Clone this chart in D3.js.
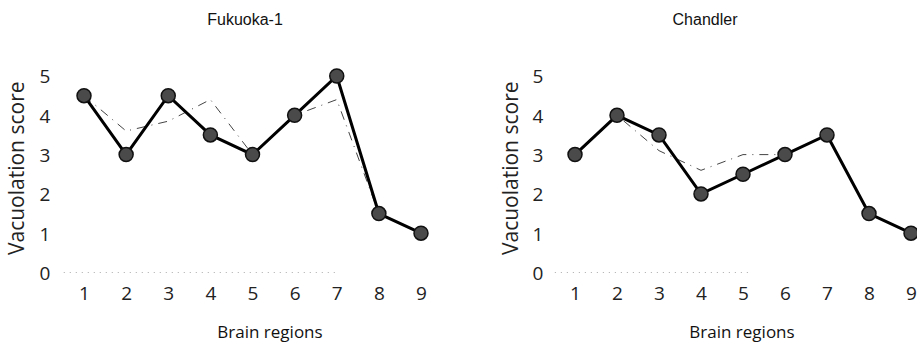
<!DOCTYPE html>
<html>
<head>
<meta charset="utf-8">
<script src="https://cdn.jsdelivr.net/npm/d3@7"></script>
<style>
  body { margin: 0; background: #fff; }
  svg { display: block; }
  .tick text { font-family: 'Open Sans', sans-serif; font-weight: 400; font-size: 19px; fill: #222; }
  .ytitle { font-family: 'Open Sans', sans-serif; font-weight: 400; font-size: 21px; fill: #222; }
  .xtitle { font-family: 'Open Sans', sans-serif; font-weight: 400; font-size: 17px; fill: #111; }
  .ptitle { font-family: 'Liberation Sans', Arial, sans-serif; font-size: 16px; fill: #111; }
</style>
</head>
<body>
<div id="chart"></div>
<script>
// data
const regions = [1, 2, 3, 4, 5, 6, 7, 8, 9]
const yTicks = [0, 1, 2, 3, 4, 5]
const panelNames = ['Fukuoka-1', 'Chandler']
const fukuokaScore = [4.5, 3, 4.5, 3.5, 3, 4, 5, 1.5, 1]
const fukuokaDashed = [4.5, 3.6, 3.85, 4.4, 3, 4, 4.4, 1.5, 1]
const chandlerScore = [3, 4, 3.5, 2, 2.5, 3, 3.5, 1.5, 1]
const chandlerDashed = [3, 4, 3.1, 2.6, 3, 3, 3.5, 1.5, 1]

const width = 917
const height = 350

const svg = d3.select('#chart').append('svg')
  .attr('width', width)
  .attr('height', height)

// layout of each panel
const panels = [
  {name: panelNames[0], solid: fukuokaScore, dashed: fukuokaDashed, x0: 84, x1: 421, labelX: 45, titleX: 17, xTitleX: 270, nameX: 245, baseEnd: 7},
  {name: panelNames[1], solid: chandlerScore, dashed: chandlerDashed, x0: 575, x1: 911, labelX: 538, titleX: 511, xTitleX: 742, nameX: 705, baseEnd: 5.2}
]

const y = d3.scaleLinear().domain([0, 5]).range([272.5, 76])

panels.forEach(p => {
  const x = d3.scaleLinear().domain([1, 9]).range([p.x0, p.x1])
  const g = svg.append('g')

  // faint dotted baseline
  g.append('line')
    .attr('x1', x(0.52)).attr('x2', x(p.baseEnd))
    .attr('y1', y(0)).attr('y2', y(0))
    .attr('stroke', '#aaa')
    .attr('stroke-width', 1)
    .attr('stroke-dasharray', '1,5')

  // y axis labels
  const yAxis = g.append('g')
    .attr('transform', `translate(${p.labelX + 8},0)`)
    .call(d3.axisLeft(y).tickValues(yTicks).tickSize(0).tickPadding(0).tickFormat(d3.format('d')))
  yAxis.select('.domain').remove()
  yAxis.selectAll('text').attr('text-anchor', 'middle').attr('dx', -8).attr('dy', '0.36em')

  // x axis labels
  const xAxis = g.append('g')
    .attr('transform', `translate(0,${y(0) + 14})`)
    .call(d3.axisBottom(x).tickValues(regions).tickSize(0).tickPadding(0).tickFormat(d3.format('d')))
  xAxis.select('.domain').remove()

  g.append('text').attr('class', 'ytitle')
    .attr('transform', `translate(${p.titleX + 7},${(y(0) + y(5)) / 2 - 6}) rotate(-90)`)
    .attr('text-anchor', 'middle')
    .text('Vacuolation score')

  g.append('text').attr('class', 'xtitle')
    .attr('x', p.xTitleX).attr('y', 338)
    .attr('text-anchor', 'middle')
    .text('Brain regions')

  g.append('text').attr('class', 'ptitle')
    .attr('x', p.nameX).attr('y', 25)
    .attr('text-anchor', 'middle')
    .text(p.name)

  const line = d3.line().x((d, i) => x(regions[i])).y(d => y(d))

  g.append('path')
    .attr('d', line(p.dashed))
    .attr('fill', 'none')
    .attr('stroke', '#444')
    .attr('stroke-width', 1)
    .attr('stroke-dasharray', '9,6,1,6')

  g.append('path')
    .attr('d', line(p.solid))
    .attr('fill', 'none')
    .attr('stroke', '#000')
    .attr('stroke-width', 3)

  g.selectAll('.pt').data(p.solid).enter().append('circle')
    .attr('class', 'pt')
    .attr('cx', (d, i) => x(regions[i]))
    .attr('cy', d => y(d))
    .attr('r', 7)
    .attr('fill', '#4a4a4a')
    .attr('stroke', '#111')
    .attr('stroke-width', 1.5)
})
</script>
</body>
</html>
